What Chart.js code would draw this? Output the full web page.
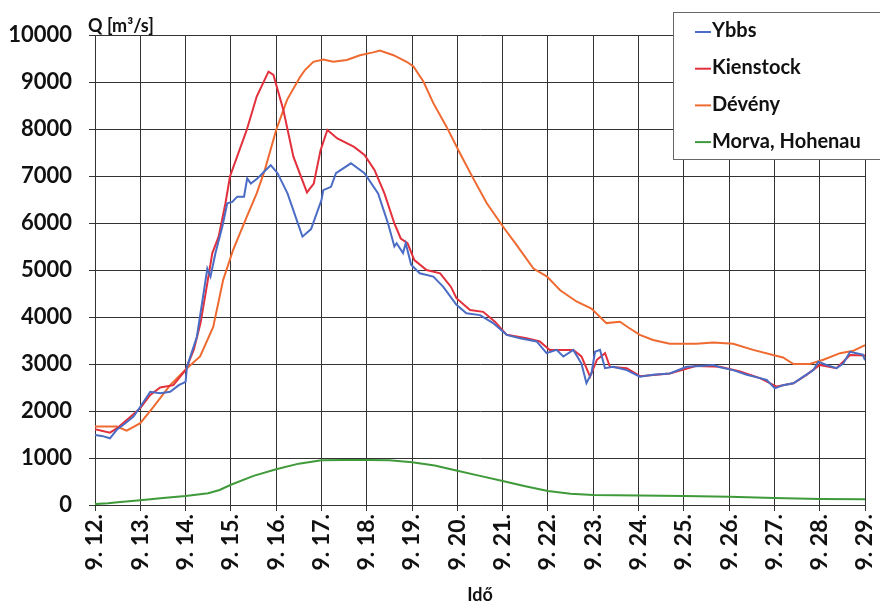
<!DOCTYPE html>
<html><head><meta charset="utf-8">
<script src="https://cdn.jsdelivr.net/npm/chart.js@4.4.1/dist/chart.umd.min.js"></script>
<style>html,body{margin:0;padding:0;background:#fff}#wrap{width:880px;height:608px}</style>
</head><body><div id="wrap"><canvas id="c" width="880" height="608"></canvas></div>
<script>
const seriesNames = ['Ybbs', 'Kienstock', 'Dévény', 'Morva, Hohenau'];
const dayLabels = ['9. 12.','9. 13.','9. 14.','9. 15.','9. 16.','9. 17.','9. 18.','9. 19.','9. 20.','9. 21.','9. 22.','9. 23.','9. 24.','9. 25.','9. 26.','9. 27.','9. 28.','9. 29.'];
const yAxisTitle = 'Q [m³/s]';
const xAxisTitle = 'Idő';

// Ybbs
const ybbsT = [12.0,12.15,12.33,12.48,12.67,12.85,13.0,13.22,13.44,13.66,13.85,14.0,14.03,14.25,14.48,14.55,14.66,14.81,14.92,15.03,15.14,15.29,15.36,15.44,15.59,15.73,15.88,16.03,16.25,16.58,16.77,17.0,17.04,17.21,17.32,17.65,17.95,18.25,18.47,18.61,18.66,18.8,18.86,18.98,19.17,19.47,19.69,19.98,20.2,20.5,20.79,21.09,21.38,21.75,21.97,22.19,22.34,22.56,22.74,22.85,22.96,23.04,23.15,23.26,23.44,23.74,24.03,24.32,24.69,25.06,25.36,25.65,25.8,26.09,26.39,26.68,26.83,27.01,27.19,27.42,27.64,27.86,27.97,28.15,28.37,28.52,28.67,28.81,28.95,29.0];
const ybbsQ = [1490,1470,1420,1600,1740,1880,2090,2410,2380,2410,2550,2620,2940,3580,5030,4860,5360,5920,6420,6450,6560,6560,6950,6840,6950,7090,7230,7060,6630,5710,5870,6490,6700,6770,7060,7270,7060,6630,5990,5500,5570,5360,5570,5110,4930,4860,4640,4260,4080,4040,3870,3620,3550,3480,3230,3300,3160,3300,3010,2590,2800,3260,3300,2910,2940,2870,2730,2770,2800,2940,2960,2980,2930,2870,2770,2700,2660,2480,2550,2590,2730,2870,3050,2980,2910,3010,3260,3230,3200,3080];

// Kienstock
const kienT = [12.0,12.33,12.48,12.7,13.0,13.22,13.44,13.73,14.0,14.18,14.33,14.48,14.59,14.73,14.88,14.98,15.35,15.57,15.83,15.94,16.16,16.38,16.68,16.83,16.98,17.13,17.35,17.72,17.95,18.17,18.39,18.61,18.75,18.9,19.05,19.32,19.62,19.86,19.98,20.28,20.57,20.83,21.09,21.53,21.82,22.04,22.56,22.74,22.93,23.08,23.26,23.37,23.74,24.03,24.69,25.28,25.8,26.24,26.68,27.05,27.42,27.71,28.0,28.37,28.67,29.0];
const kienQ = [1610,1540,1630,1810,2060,2340,2500,2550,2870,3300,3870,4720,5360,5710,6420,6990,7980,8690,9220,9150,8400,7410,6650,6840,7550,7980,7800,7620,7450,7130,6630,5990,5670,5570,5210,5000,4930,4640,4400,4150,4110,3900,3620,3550,3480,3300,3300,3160,2730,3090,3230,2940,2910,2740,2800,2960,2940,2840,2700,2520,2590,2770,2980,2910,3190,3180];

// Dévény
const devenyT = [12.0,12.48,12.7,13.0,13.29,13.66,14.03,14.32,14.61,14.83,15.05,15.35,15.57,15.75,16.0,16.24,16.53,16.64,16.82,17.04,17.26,17.56,17.85,18.14,18.29,18.59,18.88,19.03,19.25,19.47,19.76,20.06,20.35,20.65,21.01,21.31,21.68,21.98,22.27,22.63,22.96,23.29,23.59,23.8,24.03,24.32,24.69,25.28,25.65,26.09,26.53,26.97,27.19,27.42,27.78,28.08,28.45,28.74,29.0];
const devenyQ = [1670,1670,1580,1740,2090,2550,2910,3160,3790,4790,5430,6130,6630,7130,7980,8620,9110,9260,9430,9480,9430,9470,9570,9630,9670,9570,9430,9330,9010,8550,8050,7480,6950,6420,5920,5530,5030,4860,4570,4330,4180,3870,3900,3760,3620,3510,3430,3430,3460,3430,3300,3190,3140,3000,3000,3090,3230,3280,3400];

// Morva, Hohenau
const morvaT = [12.0,12.29,12.5,13.0,13.5,14.0,14.5,14.75,15.0,15.5,16.0,16.5,17.0,17.5,18.0,18.5,19.0,19.5,20.0,20.5,21.0,21.5,22.0,22.5,23.0,24.0,25.0,26.0,27.0,28.0,29.0];
const morvaQ = [20,35,60,100,150,190,250,320,430,620,760,880,950,960,960,950,910,840,730,620,510,400,300,240,215,200,190,175,150,130,120];

const colors = ['#4a6cc4', '#e2303c', '#ef6a30', '#3f9a3a'];

function pts(t, q) { return t.map((x, i) => ({ x: x, y: q[i] })); }

const datasets = [
  { label: seriesNames[0], data: pts(ybbsT, ybbsQ) },
  { label: seriesNames[1], data: pts(kienT, kienQ) },
  { label: seriesNames[2], data: pts(devenyT, devenyQ) },
  { label: seriesNames[3], data: pts(morvaT, morvaQ) }
].map((d, i) => Object.assign(d, {
  borderColor: colors[i], backgroundColor: colors[i], borderWidth: 2,
  pointRadius: 0, tension: 0, fill: false, order: i + 1
}));

const FONT = 'Lato, "Open Sans", sans-serif';

const extras = {
  id: 'extras',
  afterDraw(chart) {
    const ctx = chart.ctx, a = chart.chartArea;
    ctx.save();
    ctx.fillStyle = '#111';
    ctx.font = 'bold 18px ' + FONT;
    ctx.textAlign = 'left';
    ctx.textBaseline = 'alphabetic';
    ctx.fillText(yAxisTitle, a.left - 7, a.top - 3);
    const bx = 673, by = 12, bw = 215, bh = 147;
    ctx.fillStyle = '#fff';
    ctx.fillRect(bx, by, bw, bh);
    ctx.strokeStyle = '#666';
    ctx.lineWidth = 1;
    ctx.strokeRect(bx + 0.5, by + 0.5, bw, bh);
    ctx.font = 'bold 20px ' + FONT;
    ctx.textBaseline = 'middle';
    seriesNames.forEach((name, i) => {
      const y = 31 + i * 36.7;
      ctx.strokeStyle = colors[i];
      ctx.lineWidth = 2;
      ctx.beginPath(); ctx.moveTo(695, y + 1); ctx.lineTo(711, y + 1); ctx.stroke();
      ctx.fillStyle = '#111';
      ctx.fillText(name, 712, y);
    });
    ctx.restore();
  }
};

new Chart(document.getElementById('c'), {
  type: 'line',
  data: { datasets },
  options: {
    responsive: false,
    animation: false,
    layout: { padding: { left: 0, top: 35, right: 15, bottom: 0 } },
    plugins: { legend: { display: false }, tooltip: { enabled: false } },
    scales: {
      x: {
        type: 'linear', min: 12, max: 29,
        afterFit(s) { s.height = 103; s.paddingLeft = 0; s.paddingRight = 0; },
        grid: { color: '#333', lineWidth: 1, tickLength: 6, drawTicks: true },
        border: { color: '#333', width: 1 },
        ticks: {
          stepSize: 1, autoSkip: false, maxRotation: 90, minRotation: 90, padding: 3,
          color: '#111', font: { family: FONT, size: 23, weight: 'bold' },
          callback: (v) => dayLabels[Math.round(v) - 12]
        },
        title: { display: true, text: xAxisTitle, color: '#111', padding: { top: 0, bottom: 2 },
          font: { family: FONT, size: 18, weight: 'bold' } }
      },
      y: {
        min: 0, max: 10000,
        afterFit(s) { s.width = 95; s.paddingTop = 0; s.paddingBottom = 0; },
        grid: { color: '#333', lineWidth: 1, tickLength: 6, drawTicks: true },
        border: { color: '#333', width: 1 },
        ticks: {
          stepSize: 1000, padding: 17, color: '#111',
          font: { family: FONT, size: 22, weight: 'bold' },
          callback: (v) => String(v)
        }
      }
    }
  },
  plugins: [extras]
});
</script>
</body></html>
